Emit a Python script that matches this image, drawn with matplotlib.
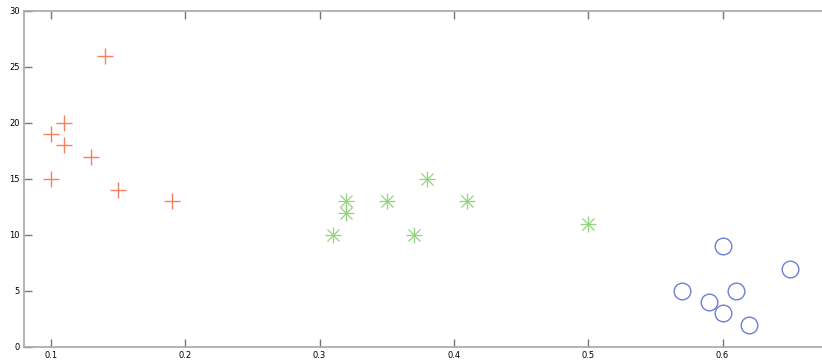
import matplotlib.pyplot as plt

# Three clusters of (x, y) points
plus_x = [0.10, 0.10, 0.11, 0.11, 0.13, 0.14, 0.15, 0.19]
plus_y = [19, 15, 20, 18, 17, 26, 14, 13]

star_x = [0.31, 0.32, 0.32, 0.35, 0.37, 0.38, 0.41, 0.50]
star_y = [10, 13, 12, 13, 10, 15, 13, 11]

circ_x = [0.57, 0.59, 0.60, 0.60, 0.61, 0.62, 0.65]
circ_y = [5, 4, 9, 3, 5, 2, 7]

x_ticks = [0.1, 0.2, 0.3, 0.4, 0.5, 0.6]
y_ticks = [0, 5, 10, 15, 20, 25, 30]

fig = plt.figure(figsize=(8.22, 3.6), dpi=100)
ax = fig.add_axes([24 / 822, 13 / 360, 1 - 24 / 822, 336 / 360])

ax.plot(plus_x, plus_y, '+', color='#f7805e', markersize=12, markeredgewidth=1.0)
# asterisk = plus + cross overlaid
ax.plot(star_x, star_y, '+', color='#92d47e', markersize=11, markeredgewidth=0.9)
ax.plot(star_x, star_y, 'x', color='#92d47e', markersize=8, markeredgewidth=0.9)
ax.plot(circ_x, circ_y, 'o', color='#6f7fd6', markersize=12, markeredgewidth=1.0,
        markerfacecolor='none')

ax.set_xlim(0.08, 0.674)
ax.set_ylim(0, 30)
ax.set_xticks(x_ticks)
ax.set_yticks(y_ticks)
ax.set_xticklabels([str(t) for t in x_ticks])
ax.set_yticklabels([str(t) for t in y_ticks])

for side in ['left', 'bottom', 'top']:
    ax.spines[side].set_color('#a8a8a8')
    ax.spines[side].set_linewidth(1.2)
ax.spines['right'].set_visible(False)

ax.tick_params(direction='in', length=5.5, width=1, color='#777777',
               labelsize=6, pad=3, top=True)

plt.savefig('out.png', dpi=100)
plt.close()
